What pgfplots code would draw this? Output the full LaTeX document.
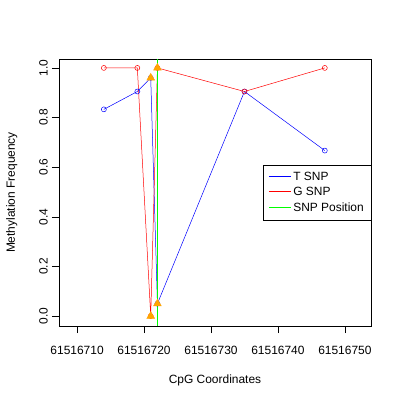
\documentclass[border=0pt]{standalone}
\usepackage{fontspec}
\setmainfont{Liberation Sans}
\usepackage{pgfplots}
\pgfplotsset{compat=1.18}
\definecolor{snporange}{RGB}{255,165,0}
\definecolor{rblue}{RGB}{0,0,255}
\definecolor{rred}{RGB}{255,0,0}
\definecolor{rgreen}{RGB}{0,255,0}
\begin{document}
\begin{tikzpicture}
\path[use as bounding box] (0,0) rectangle (400bp,400bp);
% x values are offsets from 61516700
\begin{axis}[
    at={(59bp,74bp)}, anchor=south west,
    scale only axis,
    width=312bp, height=267bp,
    xmin=7.3, xmax=53.9,
    ymin=-0.04, ymax=1.036,
    xtick={10,20,30,40,50},
    xticklabels={61516710,61516720,61516730,61516740,61516750},
    ytick={0,0.2,0.4,0.6,0.8,1.0},
    yticklabels={0.0,0.2,0.4,0.6,0.8,1.0},
    tick pos=left,
    tick align=outside,
    major tick length=7bp,
    tick style={black, line width=0.5pt},
    axis line style={black, line width=0.6pt},
    font=\fontsize{12}{14}\selectfont,
    /pgf/number format/assume math mode=true,
    xticklabel style={anchor=center, yshift=-17bp},
    yticklabel style={rotate=90, anchor=south, inner sep=4bp},
    xlabel={CpG Coordinates},
    ylabel={Methylation Frequency},
    xlabel style={at={(axis description cs:0.5,0)}, anchor=center, yshift=-54bp},
    ylabel style={at={(axis description cs:-0.151,0.5)}, anchor=center},
    legend style={at={(1,0.5)}, anchor=east, draw=black, line width=0.5pt,
        font=\fontsize{12}{14}\selectfont, row sep=1.5bp, inner xsep=5bp, inner ysep=5bp},
    legend cell align=left,
    legend image code/.code={\draw[#1] (0bp,0.5bp) -- (22bp,0.5bp);},
]
\addlegendimage{draw=rblue, line width=1bp}
\addlegendentry{T SNP}
\addlegendimage{draw=rred, line width=1bp}
\addlegendentry{G SNP}
\addlegendimage{draw=rgreen, line width=1bp}
\addlegendentry{SNP Position}

% T SNP
\addplot[forget plot, rblue, line width=0.5pt, mark=o, mark size=2.5bp,
    mark options={line width=0.5pt}] coordinates {
    (14,0.833)(19,0.905)(21,0.96)(22,0.05)(35,0.905)(47,0.667)
};
% G SNP
\addplot[forget plot, rred, line width=0.5pt, mark=o, mark size=2.5bp,
    mark options={line width=0.5pt}] coordinates {
    (14,1.0)(19,1.0)(21,0.0)(22,1.0)(35,0.905)(47,1.0)
};
% SNP position markers
\addplot[forget plot, only marks, mark=triangle*, mark size=4.5bp,
    color=snporange, fill=snporange] coordinates {
    (21,0.96)(22,1.0)(22,0.05)(21,0.0)
};
% SNP position line
\addplot[forget plot, rgreen, line width=1bp] coordinates {
    (22,-0.04)(22,1.036)
};
\end{axis}
\end{tikzpicture}
\end{document}
